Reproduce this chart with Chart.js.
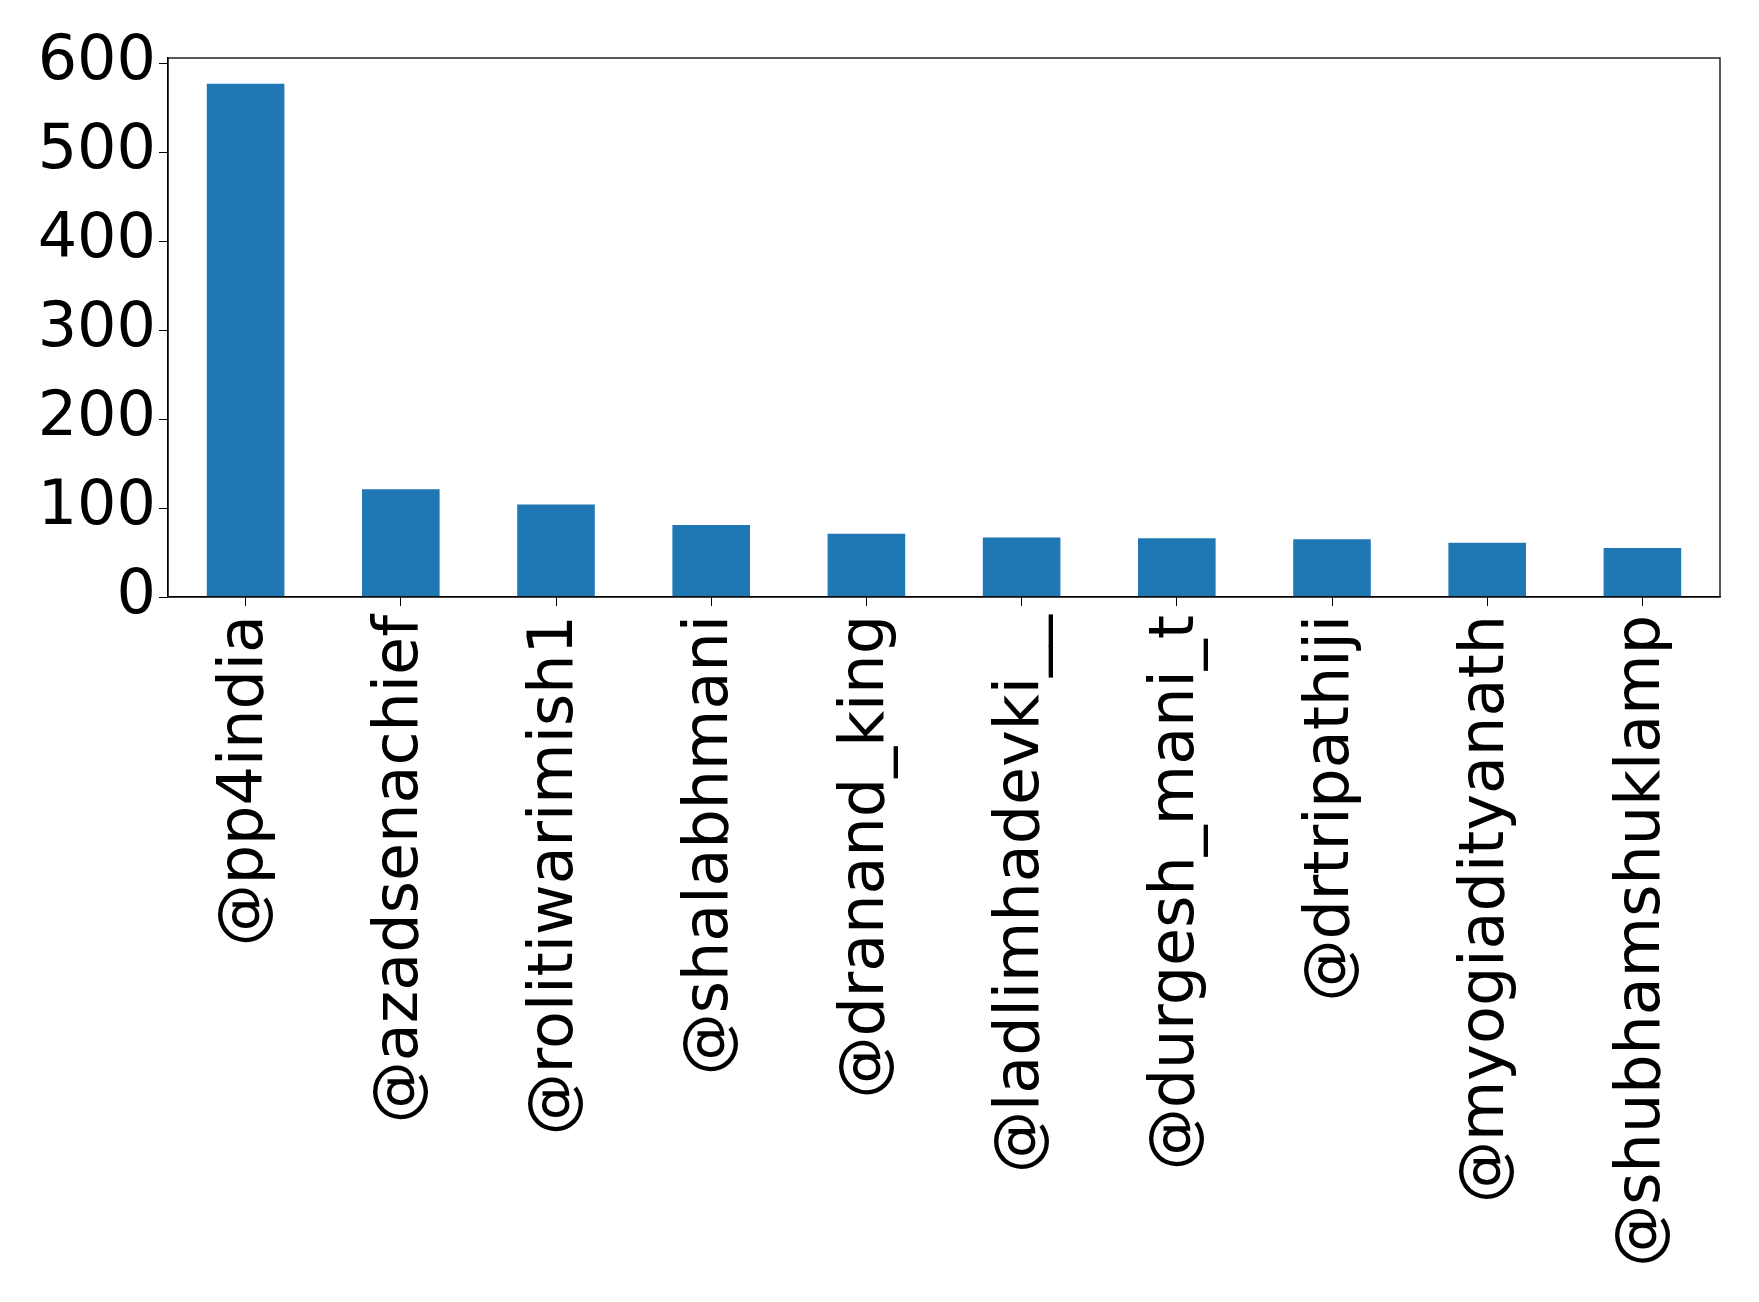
<!DOCTYPE html>
<html>
<head>
<meta charset="utf-8">
<title>Top accounts</title>
<script src="https://cdn.jsdelivr.net/npm/chart.js@4.4.1/dist/chart.umd.min.js"></script>
<style>
    html, body { margin: 0; padding: 0; background: #fff; }
    canvas { display: block; }
</style>
</head>
<body>
<canvas id="barChart" width="1759" height="1302"></canvas>
<script>
// Data
const accounts = [
    '@pp4india', '@azadsenachief', '@rolitiwarimish1', '@shalabhmani', '@dranand_king',
    '@ladlimhadevki__', '@durgesh_mani_t', '@drtripathiji', '@myogiadityanath', '@shubhamshuklamp'
];
const counts = [577, 121, 104, 81, 71, 67, 66, 65, 61, 55];
const yTicks = [0, 100, 200, 300, 400, 500, 600];

// Draws the top and right sides of the axes box
const frameBox = {
    id: 'frameBox',
    afterDraw(chart) {
        const { ctx, chartArea } = chart;
        ctx.save();
        ctx.strokeStyle = '#000';
        ctx.lineWidth = 1.3;
        ctx.strokeRect(chartArea.left, chartArea.top, chartArea.right - chartArea.left, chartArea.bottom - chartArea.top);
        ctx.restore();
    }
};

Chart.defaults.font.family = "'DejaVu Sans', sans-serif";
Chart.defaults.font.size = 62;
Chart.defaults.color = '#000';

const ctx = document.getElementById('barChart').getContext('2d');
new Chart(ctx, {
    type: 'bar',
    data: {
        labels: accounts,
        datasets: [{
            data: counts,
            backgroundColor: '#1f77b4',
            borderWidth: 0,
            barPercentage: 0.5,
            categoryPercentage: 1.0
        }]
    },
    options: {
        responsive: false,
        animation: false,
        devicePixelRatio: 1,
        layout: {
            padding: { top: 58, right: 39, left: 0, bottom: 0 }
        },
        plugins: {
            legend: { display: false },
            tooltip: { enabled: false }
        },
        scales: {
            x: {
                offset: true,
                grid: {
                    drawOnChartArea: false,
                    drawTicks: true,
                    tickLength: 9,
                    color: '#000',
                    offset: false
                },
                border: { display: true, color: '#000', width: 1.3 },
                ticks: {
                    minRotation: 90,
                    maxRotation: 90,
                    autoSkip: false,
                    padding: 9,
                    font: { size: 62, lineHeight: 1.08 }
                },
                afterFit(scale) {
                    scale.height = 705;
                }
            },
            y: {
                min: 0,
                max: Math.max(...counts) * 1.05,
                grid: {
                    drawOnChartArea: false,
                    drawTicks: true,
                    tickLength: 9,
                    color: '#000'
                },
                border: { display: true, color: '#000', width: 1.3 },
                ticks: {
                    padding: 3
                },
                afterBuildTicks(scale) {
                    scale.ticks = yTicks.map(v => ({ value: v }));
                },
                afterFit(scale) {
                    scale.width = 168;
                }
            }
        }
    },
    plugins: [frameBox]
});
</script>
</body>
</html>
